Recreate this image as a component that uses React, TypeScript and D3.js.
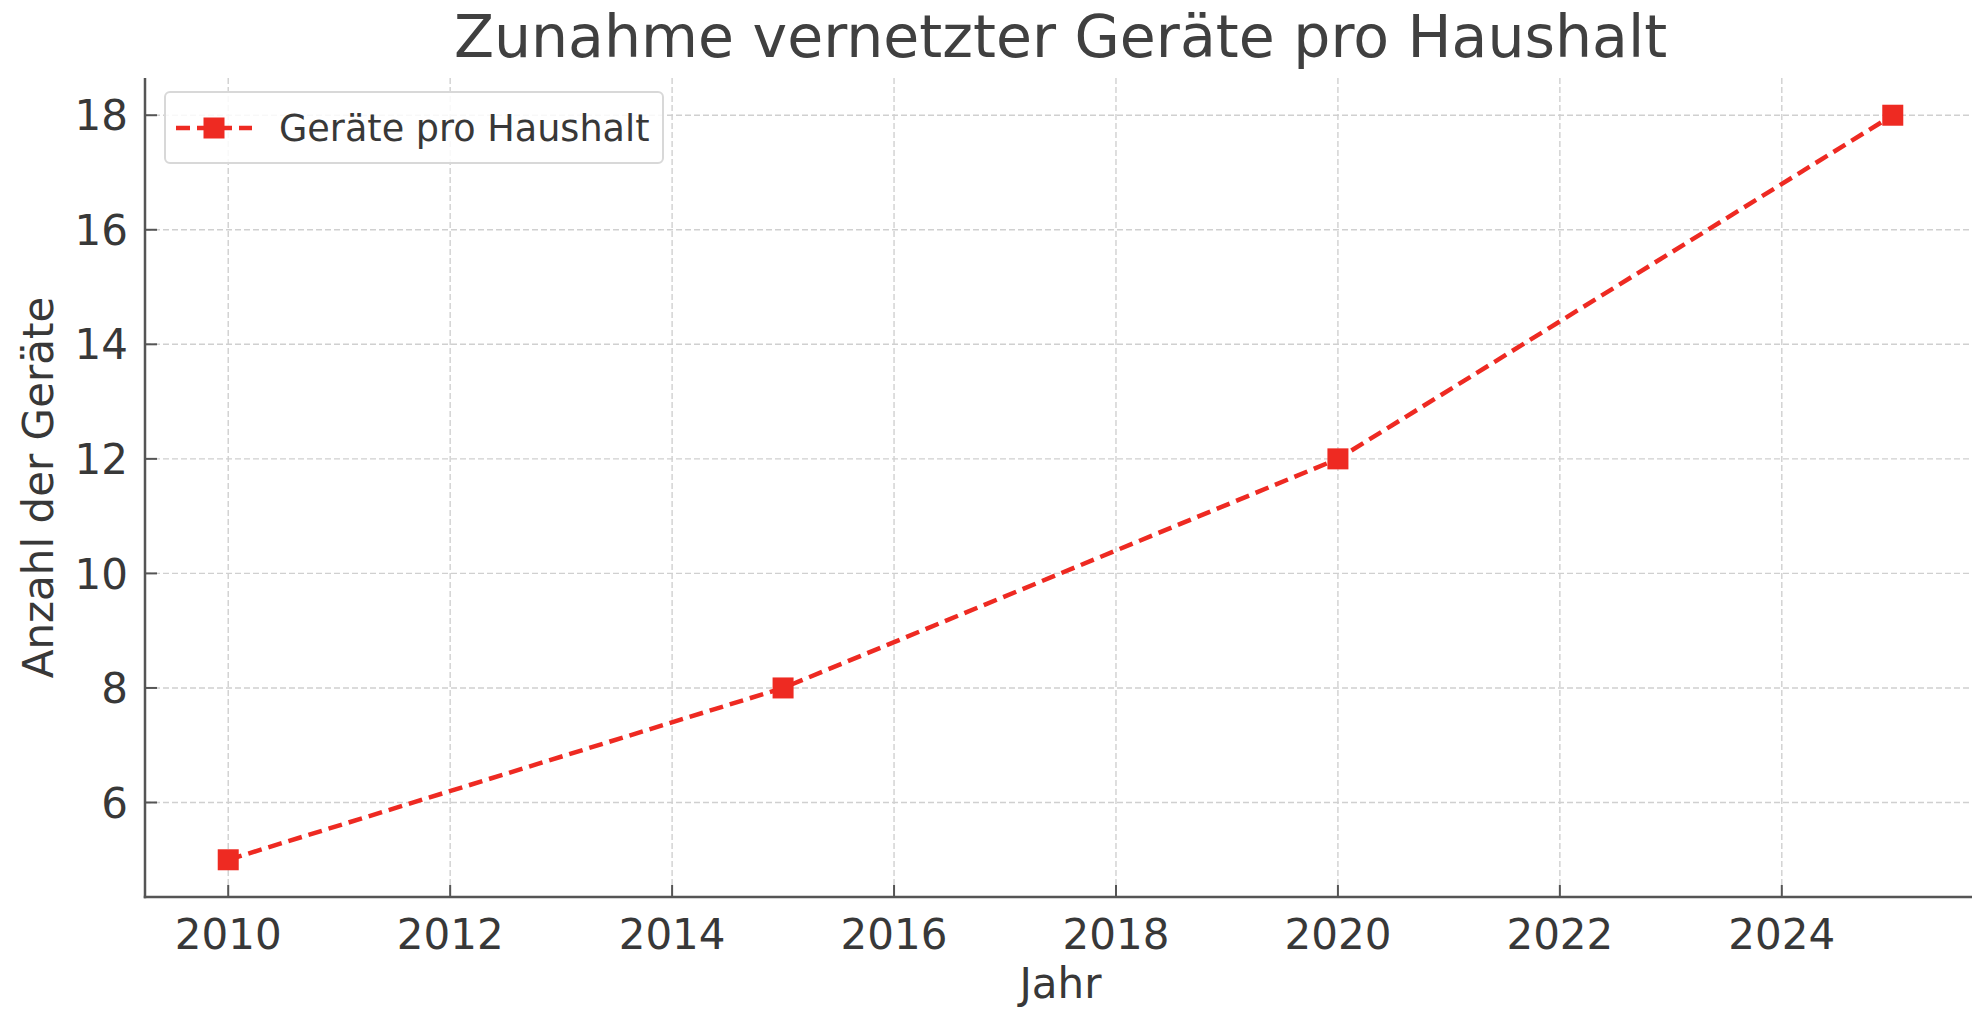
import React from 'react';
import * as d3 from 'd3';

const years = [2010, 2015, 2020, 2025];
const devices = [5, 8, 12, 18];
const xTicks = [2010, 2012, 2014, 2016, 2018, 2020, 2022, 2024];
const yTicks = [6, 8, 10, 12, 14, 16, 18];
const title = 'Zunahme vernetzter Geräte pro Haushalt';
const xLabel = 'Jahr';
const yLabel = 'Anzahl der Geräte';
const seriesName = 'Geräte pro Haushalt';

const W = 1972;
const H = 1012;
const left = 145, right = 1976, top = 78, bottom = 897;
const FONT = 'DejaVu Sans, sans-serif';
const RED = '#ee2a22';
const TXT = '#383838';
const AX = '#555555';

export default function App() {
  const x = d3.scaleLinear().domain([2009.25, 2025.75]).range([left, right]);
  const y = d3.scaleLinear().domain([4.35, 18.65]).range([bottom, top]);
  const line = d3.line<number>().x((_, i) => x(years[i])).y((d) => y(d));
  const ms = 21;
  return (
    <svg width={W} height={H} style={{ position: 'absolute', left: 0, top: 0, background: '#fff' }} fontFamily={FONT}>
      <rect x={0} y={0} width={W} height={H} fill="#fff" />
      {xTicks.map((t) => (
        <line key={'gx' + t} x1={x(t)} x2={x(t)} y1={top} y2={bottom} stroke="#d0d0d0" strokeWidth={1.4} strokeDasharray="6,3" />
      ))}
      {yTicks.map((t) => (
        <line key={'gy' + t} x1={left} x2={right} y1={y(t)} y2={y(t)} stroke="#d0d0d0" strokeWidth={1.4} strokeDasharray="6,3" />
      ))}
      <path d={line(devices) || ''} fill="none" stroke={RED} strokeWidth={4.5} strokeDasharray="14,7" />
      {devices.map((d, i) => (
        <rect key={'m' + i} x={x(years[i]) - ms / 2} y={y(d) - ms / 2} width={ms} height={ms} fill={RED} />
      ))}
      <line x1={left} x2={left} y1={top} y2={bottom + 1.25} stroke={AX} strokeWidth={2.5} />
      <line x1={left - 1.25} x2={right} y1={bottom} y2={bottom} stroke={AX} strokeWidth={2.5} />
      {xTicks.map((t) => (
        <g key={'xt' + t}>
          <line x1={x(t)} x2={x(t)} y1={bottom} y2={bottom - 12} stroke={AX} strokeWidth={2} />
          <text x={x(t)} y={949} textAnchor="middle" fontSize={42} fill={TXT}>{t}</text>
        </g>
      ))}
      {yTicks.map((t) => (
        <g key={'yt' + t}>
          <line x1={left} x2={left + 12} y1={y(t)} y2={y(t)} stroke={AX} strokeWidth={2} />
          <text x={128} y={y(t)} dy="0.36em" textAnchor="end" fontSize={42} fill={TXT}>{t}</text>
        </g>
      ))}
      <text x={(left + right) / 2} y={57} textAnchor="middle" fontSize={58.5} fill="#404040">{title}</text>
      <text x={(left + right) / 2} y={998} textAnchor="middle" fontSize={42} fill={TXT}>{xLabel}</text>
      <text transform={`translate(53, ${(top + bottom) / 2}) rotate(-90)`} textAnchor="middle" fontSize={42} fill={TXT}>{yLabel}</text>
      <rect x={165} y={92} width={498} height={71} rx={5} fill="#fff" fillOpacity={0.85} stroke="#d8d8d8" strokeWidth={2} />
      <line x1={176} x2={252} y1={128} y2={128} stroke={RED} strokeWidth={4.5} strokeDasharray="14,7" />
      <rect x={214 - ms / 2} y={128 - ms / 2} width={ms} height={ms} fill={RED} />
      <text x={279} y={141} fontSize={36.6} fill={TXT}>{seriesName}</text>
    </svg>
  );
}
